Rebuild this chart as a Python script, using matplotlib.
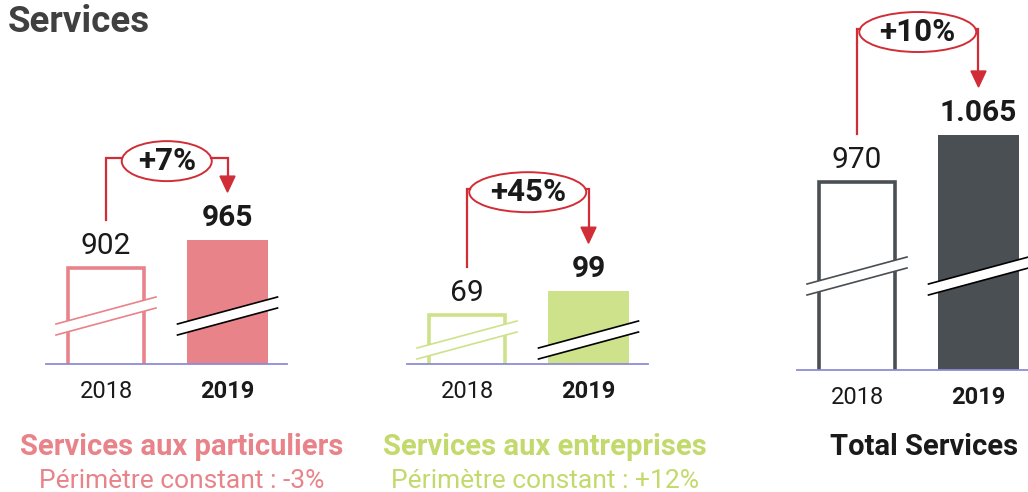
import matplotlib.pyplot as plt
from matplotlib.patches import Ellipse, Polygon

plt.rcParams['font.family'] = ['Roboto', 'DejaVu Sans']

# data
years = ['2018', '2019']
particuliers = [902, 965]
entreprises = [69, 99]
total_services = [970, 1065]
growth = ['+7%', '+45%', '+10%']
segments = ['Services aux particuliers', 'Services aux entreprises', 'Total Services']
perimetre = ['Périmètre constant : -3%', 'Périmètre constant : +12%', '']

pink = '#E8838A'
green = '#CDE28A'
green_txt = '#C2DA6C'
dark = '#4A4F54'
red = '#D12D36'
base_col = '#8C8CD7'
ink = '#1A1A1A'

W, H = 1028, 492
fig = plt.figure(figsize=(W / 100, H / 100), dpi=100)

UNIT = 121.5  # px between the 2018 and 2019 bars

# layout of each panel (broken y axis: lo = value at the baseline, ppu = px per unit)
panels = [
    dict(vals=particuliers, col=pink, txt=pink, x0=106, base=364, lo=686, ppu=0.444,
         brk=48, ell_w=90, ell_dy=79, cx=182),
    dict(vals=entreprises, col=green, txt=green_txt, x0=467, base=364, lo=8, ppu=0.8,
         brk=24, ell_w=117, ell_dy=99, cx=545),
    dict(vals=total_services, col=dark, txt=ink, x0=857, base=370, lo=590, ppu=0.4947,
         brk=94, ell_w=117, ell_dy=103, cx=924),
]


def fmt(v):
    return f'{v:,}'.replace(',', '.')


for k, p in enumerate(panels):
    ax = fig.add_axes([(p['x0'] - 0.49 * UNIT) / W, (H - p['base']) / H,
                       1.98 * UNIT / W, p['base'] / H])
    ax.set_xlim(-0.49, 1.49)
    ax.set_ylim(p['lo'], p['lo'] + p['base'] / p['ppu'])
    ax.axis('off')

    def dy(px):
        return px / p['ppu']

    def dx(px):
        return px / UNIT

    v0, v1 = p['vals']
    ax.bar(0, v0, width=0.62, color='white', edgecolor=p['col'], linewidth=2.6, zorder=2)
    ax.bar(1, v1, width=0.66, color=p['col'], zorder=2)
    ax.axhline(p['lo'], color=base_col, lw=1.3, zorder=6, clip_on=False)

    # axis break marks
    for i, lc in [(0, p['col']), (1, 'black')]:
        yb = p['lo'] + dy(p['brk'])
        hw, rise, gap = dx(50), dy(27), dy(11)
        l1 = [(i - hw, yb - gap / 2 - rise / 2), (i + hw, yb - gap / 2 + rise / 2)]
        l2 = [(i - hw, yb + gap / 2 - rise / 2), (i + hw, yb + gap / 2 + rise / 2)]
        ax.add_patch(Polygon(l1 + l2[::-1], closed=True, facecolor='white',
                             edgecolor='none', zorder=3))
        for ln in (l1, l2):
            ax.plot([ln[0][0], ln[1][0]], [ln[0][1], ln[1][1]], color=lc, lw=1.2, zorder=4)

    # value and year labels
    for i, v in enumerate(p['vals']):
        ax.annotate(fmt(v), (i, v), xytext=(0, 16), textcoords='offset points',
                    ha='center', va='center', fontsize=21.5, color=ink,
                    fontweight='bold' if i == 1 else 'normal')
        ax.annotate(years[i], (i, p['lo']), xytext=(0, -20), textcoords='offset points',
                    ha='center', va='center', fontsize=17, color=ink,
                    fontweight='bold' if i == 1 else 'normal', annotation_clip=False)

    # growth bracket with ellipse and arrow
    ey = v1 + dy(p['ell_dy'])
    ew, eh = dx(p['ell_w']), dy(40)
    ax.add_patch(Ellipse((0.5, ey), ew, eh, facecolor='white', edgecolor=red,
                         lw=1.4, zorder=5, clip_on=False))
    cy = ey + dy(3)
    tip = v1 + dy(48)
    hh, hwid = dy(16), dx(15)
    ax.plot([0, 0, 0.5 - ew / 2 * 0.99], [v0 + dy(48), cy, cy], color=red, lw=1.6,
            zorder=5, clip_on=False, solid_joinstyle='miter')
    ax.plot([0.5 + ew / 2 * 0.99, 1, 1], [cy, cy, tip + hh], color=red, lw=1.6,
            zorder=5, clip_on=False, solid_joinstyle='miter')
    ax.add_patch(Polygon([(1 - hwid / 2, tip + hh), (1 + hwid / 2, tip + hh), (1, tip)],
                         closed=True, color=red, zorder=5, clip_on=False))
    ax.text(0.5, ey, growth[k], ha='center', va='center', fontsize=22.5,
            fontweight='bold', color=ink, zorder=6)

    # segment names
    fig.text(p['cx'] / W, 1 - 455 / H, segments[k], ha='center', va='baseline',
             fontsize=21, fontweight='bold', color=p['txt'])
    if perimetre[k]:
        fig.text(p['cx'] / W, 1 - 488 / H, perimetre[k], ha='center', va='baseline',
                 fontsize=19, color=p['txt'])

fig.text(8 / W, 1 - 32 / H, 'Services', ha='left', va='baseline', fontsize=26.5,
         fontweight='bold', color='#404040')

fig.savefig('out.png', dpi=100)
